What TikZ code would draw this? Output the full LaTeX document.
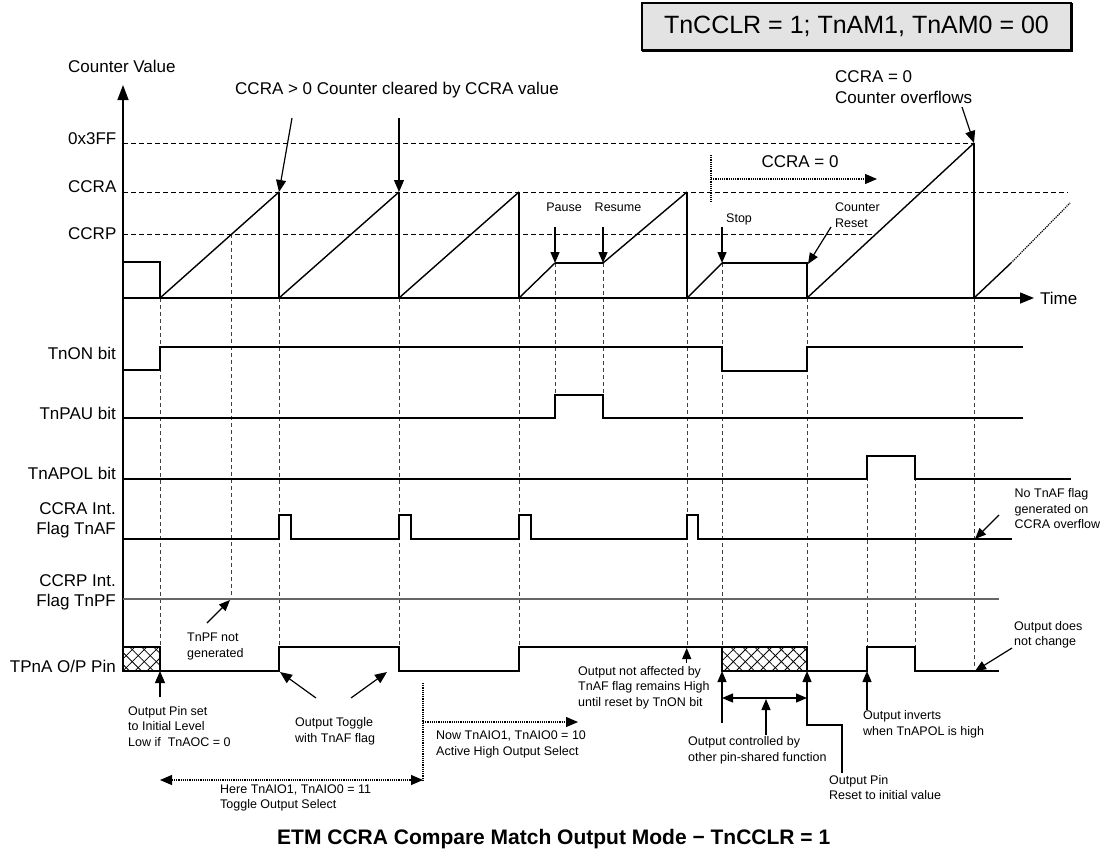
\documentclass[tikz,border=0pt]{standalone}
\usepackage{fontspec}
\setmainfont{Liberation Sans}
\usetikzlibrary{arrows.meta,patterns.meta}
\begin{document}
\begin{tikzpicture}[x=1pt,y=-1pt,
  big/.style={font=\fontsize{17}{20}\selectfont, inner sep=0pt},
  small/.style={font=\fontsize{12.5}{15.5}\selectfont, inner sep=0pt, align=left, anchor=west},
  sig/.style={line width=1.7pt, line join=miter},
  ramp/.style={line width=1.4pt},
  drop/.style={line width=2.6pt},
  lvl/.style={dash pattern=on 5pt off 3pt, line width=0.9pt},
  guide/.style={dash pattern=on 4pt off 3pt, line width=0.9pt, black!75},
  arr/.style={-{Triangle[length=12pt,width=10pt]}, line width=1.2pt},
  sarr/.style={-{Triangle[length=11pt,width=9pt]}, line width=1.2pt},
  darr/.style={{Triangle[length=11pt,width=9pt]}-{Triangle[length=11pt,width=9pt]}, line width=1.2pt},
  dotl/.style={dash pattern=on 1.2pt off 1pt, line width=1.2pt},
  dotarr/.style={dotl, -{Triangle[length=12pt,width=10pt]}},
  ddotarr/.style={dotl, {Triangle[length=12pt,width=10pt]}-{Triangle[length=12pt,width=10pt]}},
  hatch/.style={pattern={Lines[angle=45,distance=8.5pt,line width=0.8pt]}},
  hatchb/.style={pattern={Lines[angle=-45,distance=8.5pt,line width=0.8pt]}}
]
\useasboundingbox (0,0) rectangle (1107,854);

% ---------- header box ----------
\node[draw, line width=1.3pt, fill=gray!22, minimum width=429pt, minimum height=47pt,
      inner sep=0pt, font=\fontsize{25}{30}\selectfont] (hdr) at (856.5,26.5)
      {TnCCLR = 1; TnAM1, TnAM0 = 00};
\draw[line width=1.2pt] ([xshift=1pt,yshift=-1pt]hdr.south west) -- ([xshift=1pt,yshift=-1pt]hdr.south east)
      -- ([xshift=1pt,yshift=-1pt]hdr.north east);

% ---------- guides (dashed verticals) ----------
\foreach \x/\ya/\yb in {160/298/647, 231/234/600, 279/298/647, 399/298/647, 519/298/647,
    555/263/395, 603/263/395, 687/298/647, 722/263/647, 807/298/647, 867/456/647,
    915/456/647, 974/298/666}
  \draw[guide] (\x,\ya) -- (\x,\yb);

% ---------- level lines ----------
\draw[lvl] (123,143) -- (974,143);
\draw[lvl] (123,192) -- (1068,192);
\draw[lvl] (123,234) -- (873,234);

% ---------- axes ----------
\coordinate (origin) at (123,298);
\coordinate (ytop) at (123,85);
\coordinate (xend) at (1034,298);
\draw[line width=1.4pt, -{Triangle[length=15pt,width=11pt]}] (123,647) -- (ytop);
\draw[line width=1.4pt, -{Triangle[length=14pt,width=11pt]}] (origin) -- (xend);
\node[big, anchor=west] (time) at (1040,298) {Time};
\node[big, anchor=west] (cv) at (68,66) {Counter Value};
\node[big, anchor=west] (l3ff) at (68,139) {0x3FF};
\node[big, anchor=west] (lccra) at (68,186.5) {CCRA};
\node[big, anchor=west] (lccrp) at (68,233.5) {CCRP};

% ---------- counter waveform ----------
\coordinate (pA1) at (279,192);
\coordinate (pA2) at (399,192);
\coordinate (pause) at (555,263);
\coordinate (resume) at (603,263);
\coordinate (stop) at (722,263);
\coordinate (creset) at (807,263);
\coordinate (ovf) at (974,143);
\draw[sig] (123,262) -- (160,262) -- (160,298);
\draw[ramp] (160,298) -- (pA1);
\draw[drop] (pA1) -- (279,298);
\draw[ramp] (279,298) -- (pA2);
\draw[drop] (pA2) -- (399,298);
\draw[ramp] (399,298) -- (519,192);
\draw[line width=2pt] (519,192) -- (519,298);
\draw[ramp] (519,298) -- (pause);
\draw[sig] (pause) -- (resume);
\draw[ramp] (resume) -- (687,192);
\draw[line width=2pt] (687,192) -- (687,298);
\draw[ramp] (687,298) -- (stop);
\draw[ramp] (stop) -- (creset) -- (807,298);
\draw[ramp] (807,298) -- (ovf);
\draw[drop] (ovf) -- (974,298);
\draw[ramp] (974,298) -- (1011,263);
\draw[dotl] (1011,263) -- (1070,203);

% ---------- top annotations ----------
\node[big, anchor=west] (clr) at (235,90) {CCRA > 0 Counter cleared by CCRA value};
\coordinate (clrA) at (292,118);
\coordinate (clrB) at (399,118);
\draw[arr] (clrA) -- (pA1);
\draw[arr] (clrB) -- (pA2);

\node[big, anchor=west, align=left, font=\fontsize{17}{21}\selectfont] (ovft) at (835,87.5) {CCRA = 0\\Counter overflows};
\coordinate (ovfA) at (962,107);
\draw[arr] (ovfA) -- (ovf);

\node[big] (ccra0) at (800,162) {CCRA = 0};
\coordinate (c0top) at (711,155);
\coordinate (c0bot) at (711,203);
\coordinate (c0s) at (711,179);
\coordinate (c0e) at (877,179);
\draw[dotl] (c0top) -- (c0bot);
\draw[dotarr] (c0s) -- (c0e);

\node[small, anchor=center] (tpause) at (564,207) {Pause};
\node[small, anchor=center] (tresume) at (618,207) {Resume};
\node[small] (tstop) at (726,219) {Stop};
\node[small] (treset) at (835,215) {Counter\\Reset};
\coordinate (pauseA) at (555,227);
\coordinate (resumeA) at (603,227);
\coordinate (stopA) at (722,227);
\coordinate (resetA) at (831,227);
\draw[sarr] (pauseA) -- (pause);
\draw[sarr] (resumeA) -- (resume);
\draw[sarr] (stopA) -- (stop);
\draw[sarr] (resetA) -- ([xshift=1pt,yshift=-1pt]creset);

% ---------- row labels ----------
\node[big, anchor=east] (ron) at (116,353) {TnON bit};
\node[big, anchor=east] (rpau) at (116,413) {TnPAU bit};
\node[big, anchor=east] (rpol) at (116,473) {TnAPOL bit};
\node[big, anchor=east, align=right] (raf) at (116,520) {CCRA Int.\\Flag TnAF};
\node[big, anchor=east, align=right] (rpf) at (116,592) {CCRP Int.\\Flag TnPF};
\node[big, anchor=east] (rpin) at (116,666) {TPnA O/P Pin};

% ---------- signals ----------
\draw[sig] (123,370) -- (160,370) -- (160,347) -- (722,347) -- (722,371) -- (807,371) -- (807,347) -- (1023,347);
\draw[sig] (123,418) -- (555,418) -- (555,395) -- (603,395) -- (603,418) -- (1023,418);
\draw[sig] (123,479) -- (867,479) -- (867,456) -- (915,456) -- (915,479) -- (1071,479);
\draw[sig] (123,539) -- (279,539) -- (279,515) -- (291,515) -- (291,539)
   -- (399,539) -- (399,515) -- (411,515) -- (411,539)
   -- (519,539) -- (519,515) -- (531,515) -- (531,539)
   -- (687,539) -- (687,515) -- (698,515) -- (698,539) -- (1012,539);
\draw[line width=1.3pt, black!60] (123,599) -- (999,599);

% TPnA pin
\path[hatch] (123,647) rectangle (160,671);
\path[hatchb] (123,647) rectangle (160,671);
\draw[line width=1.7pt] (123,647) rectangle (160,671);
\path[hatch] (722,647) rectangle (807,671);
\path[hatchb] (722,647) rectangle (807,671);
\draw[line width=1.7pt] (722,647) rectangle (807,671);
\draw[sig] (160,671) -- (279,671) -- (279,647) -- (399,647) -- (399,671) -- (519,671) -- (519,647) -- (722,647);
\draw[sig] (807,671) -- (867,671) -- (867,647) -- (915,647) -- (915,671) -- (999,671);

% ---------- right annotations ----------
\node[small] (noaf) at (1014.5,509) {No TnAF flag\\generated on\\CCRA overflow};
\coordinate (noafA) at (999,515);
\coordinate (noafT) at (975,539);
\draw[sarr] (noafA) -- (noafT);

\node[small] (nochg) at (1014,635) {Output does\\not change};
\coordinate (nochgA) at (1012,648);
\coordinate (nochgT) at (975,671);
\draw[sarr] (nochgA) -- (nochgT);

% ---------- bottom annotations ----------
\node[small] (tpf) at (187,646.5) {TnPF not\\generated};
\coordinate (tpfA) at (207,623);
\coordinate (tpfT) at (230,600);
\draw[sarr] (tpfA) -- (tpfT);

\node[small] (init) at (128,726.5) {Output Pin set\\to Initial Level\\Low if\ \ TnAOC = 0};
\coordinate (initA) at (160,697);
\coordinate (initT) at (160,671);
\draw[arr] (initA) -- (initT);

\node[small] (tog) at (295,731.5) {Output Toggle\\with TnAF flag};
\coordinate (togA) at (316,698);
\coordinate (togT) at (280,672);
\coordinate (togB) at (351,698);
\coordinate (togU) at (387,672);
\draw[arr] (togA) -- (togT);
\draw[arr] (togB) -- (togU);

\coordinate (selTop) at (423,683);
\coordinate (selBot) at (423,780);
\coordinate (selMid) at (423,722);
\coordinate (selR) at (578,722);
\coordinate (selL) at (160,780);
\draw[dotl] (selTop) -- (selBot);
\draw[dotarr] (selMid) -- (selR);
\draw[ddotarr] (selL) -- (selBot);
\node[small] (now) at (436,744.5) {Now TnAIO1, TnAIO0 = 10\\Active High Output Select};
\node[small] (here) at (220,798) {Here TnAIO1, TnAIO0 = 11\\Toggle Output Select};

\node[small] (naff) at (578,687.5) {Output not affected by\\TnAF flag remains High\\until reset by TnON bit};
\coordinate (naffA) at (686.7,663);
\coordinate (naffT) at (686.7,648);
\draw[sarr] (naffA) -- (naffT);

\coordinate (hbA) at (722,723);
\coordinate (hbT) at (722,671);
\draw[sarr] (hbA) -- (hbT);
\coordinate (hbL) at (722,698);
\coordinate (hbR) at (807,698);
\draw[darr] (hbL) -- (hbR);
\coordinate (ctrlA) at (766,735);
\coordinate (ctrlT) at (766,699);
\draw[sarr] (ctrlA) -- (ctrlT);
\node[small] (ctrl) at (688,750.5) {Output controlled by\\other pin-shared function};

\coordinate (rstA) at (842,773);
\coordinate (rstT) at (807,671);
\draw[sarr] (rstA) -- (842,725) -- (807,725) -- (rstT);
\node[small] (rst) at (829,787.5) {Output Pin\\Reset to initial value};

\coordinate (invA) at (867,710);
\coordinate (invT) at (867,671);
\draw[sarr] (invA) -- (invT);
\node[small] (inv) at (863,724.5) {Output inverts\\when TnAPOL is high};

% ---------- title ----------
\node[anchor=west, inner sep=0pt, font=\bfseries\fontsize{21}{25}\selectfont] (title) at (277,839)
  {ETM CCRA Compare Match Output Mode − TnCCLR = 1};
\end{tikzpicture}
\end{document}
